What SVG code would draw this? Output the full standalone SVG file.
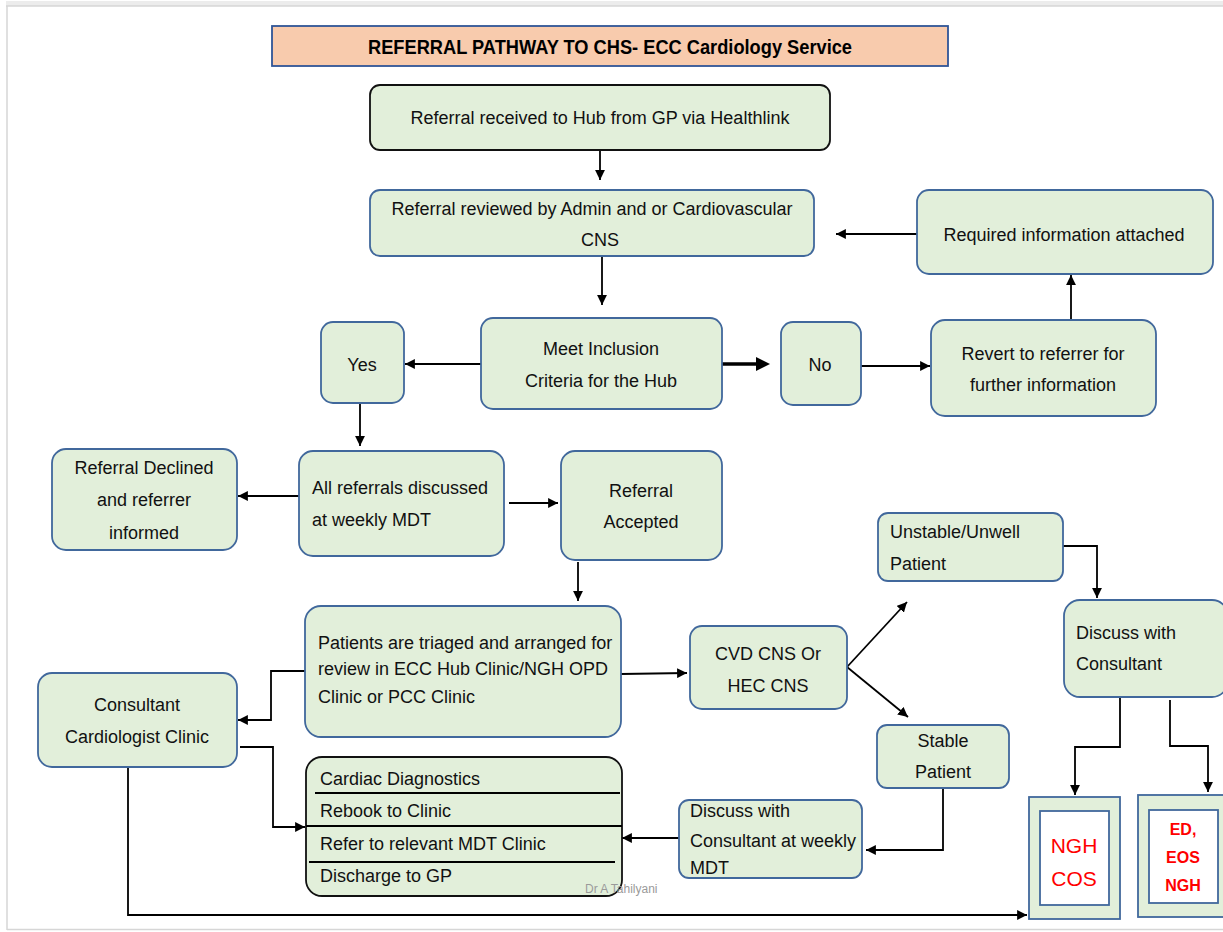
<svg xmlns="http://www.w3.org/2000/svg" width="1223" height="932" viewBox="0 0 1223 932">
<defs>
<style>
.n{fill:#e2efda;stroke:#41689c;stroke-width:1.8}
.nb{fill:#e2efda;stroke:#111;stroke-width:1.8}
.t{font-family:"Liberation Sans",Arial,sans-serif;font-size:18px;fill:#111}
.c{text-anchor:middle}
.e{fill:none;stroke:#000;stroke-width:1.8}
.red{font-family:"Liberation Sans",Arial,sans-serif;fill:#ff0000;text-anchor:middle}
</style>
<marker id="ah" viewBox="0 0 10 10" refX="10" refY="5" markerWidth="5.5" markerHeight="5.5" orient="auto" markerUnits="strokeWidth">
<path d="M0,0 L10,5 L0,10 z" fill="#000"/>
</marker>
</defs>
<rect width="1223" height="932" fill="#fff"/>
<rect x="6" y="1" width="1217" height="5" fill="#ececec"/>
<line x1="6" y1="6" x2="1223" y2="6" stroke="#d6d6d6" stroke-width="1.5"/>
<line x1="7" y1="6" x2="7" y2="930" stroke="#d6d6d6" stroke-width="1.5"/>
<line x1="7" y1="929.5" x2="1223" y2="929.5" stroke="#d6d6d6" stroke-width="1.5"/>

<g id="title">
<rect x="272" y="26" width="676" height="40" fill="#f8cbad" stroke="#2f5597" stroke-width="1.8"/>
<text x="610" y="54" class="c" font-family="Liberation Sans,Arial,sans-serif" font-size="21" font-weight="bold" fill="#000" textLength="484" lengthAdjust="spacingAndGlyphs">REFERRAL PATHWAY TO CHS- ECC Cardiology Service</text>
</g>

<g id="connectors">
<line class="e" x1="600" y1="150" x2="600" y2="180" marker-end="url(#ah)"/>
<line class="e" x1="602" y1="256" x2="602" y2="305" marker-end="url(#ah)"/>
<line class="e" x1="917" y1="234" x2="836" y2="234" marker-end="url(#ah)"/>
<line class="e" x1="481" y1="364" x2="405" y2="364" marker-end="url(#ah)"/>
<line x1="722" y1="364" x2="758" y2="364" stroke="#000" stroke-width="3.5"/>
<polygon points="756,357 770,364 756,371" fill="#000"/>
<line class="e" x1="861" y1="366" x2="930" y2="366" marker-end="url(#ah)"/>
<line class="e" x1="1071" y1="320" x2="1071" y2="275" marker-end="url(#ah)"/>
<line class="e" x1="360" y1="403" x2="360" y2="446" marker-end="url(#ah)"/>
<line class="e" x1="299" y1="496" x2="238" y2="496" marker-end="url(#ah)"/>
<line class="e" x1="509" y1="503" x2="558" y2="503" marker-end="url(#ah)"/>
<line class="e" x1="578" y1="562" x2="578" y2="601" marker-end="url(#ah)"/>
<line class="e" x1="621" y1="674" x2="687" y2="673" marker-end="url(#ah)"/>
<line class="e" x1="847" y1="667" x2="907" y2="602" marker-end="url(#ah)"/>
<line class="e" x1="847" y1="667" x2="908" y2="717" marker-end="url(#ah)"/>
<polyline class="e" points="1063,546 1097,546 1097,598" marker-end="url(#ah)"/>
<polyline class="e" points="1120,697 1120,747 1075,747 1075,795" marker-end="url(#ah)"/>
<polyline class="e" points="1170,700 1170,746 1208,746 1208,792" marker-end="url(#ah)"/>
<polyline class="e" points="943,788 943,850 866,850" marker-end="url(#ah)"/>
<line class="e" x1="679" y1="838" x2="622" y2="838" marker-end="url(#ah)"/>
<polyline class="e" points="305,671 271,671 271,720 238,720" marker-end="url(#ah)"/>
<polyline class="e" points="240,747 273,747 273,827 305,827" marker-end="url(#ah)"/>
<polyline class="e" points="128,767 128,915 1027,915" marker-end="url(#ah)"/>
</g>

<g id="received">
<rect class="nb" x="370" y="85" width="460" height="65" rx="10"/>
<text class="t c" x="600" y="124">Referral received to Hub from GP via Healthlink</text>
</g>
<g id="reviewed">
<rect class="n" x="370" y="190" width="444" height="66" rx="10"/>
<text class="t c" x="592" y="215">Referral reviewed by Admin and or Cardiovascular</text>
<text class="t c" x="600" y="246">CNS</text>
</g>
<g id="required">
<rect class="n" x="917" y="190" width="296" height="84" rx="12"/>
<text class="t c" x="1064" y="241">Required information attached</text>
</g>
<g id="meet">
<rect class="n" x="481" y="318" width="241" height="91" rx="12"/>
<text class="t c" x="601" y="355">Meet Inclusion</text>
<text class="t c" x="601" y="387">Criteria for the Hub</text>
</g>
<g id="yes">
<rect class="n" x="321" y="322" width="83" height="81" rx="12"/>
<text class="t c" x="362" y="371" font-size="20">Yes</text>
</g>
<g id="no">
<rect class="n" x="781" y="322" width="80" height="83" rx="12"/>
<text class="t c" x="820" y="371" font-size="20">No</text>
</g>
<g id="revert">
<rect class="n" x="931" y="320" width="225" height="96" rx="14"/>
<text class="t c" x="1043" y="360">Revert to referrer for</text>
<text class="t c" x="1043" y="391">further information</text>
</g>
<g id="all-referrals">
<rect class="n" x="299" y="451" width="205" height="105" rx="14"/>
<text class="t" x="312" y="494">All referrals discussed</text>
<text class="t" x="312" y="526">at weekly MDT</text>
</g>
<g id="declined">
<rect class="n" x="52" y="449" width="185" height="101" rx="14"/>
<text class="t c" x="144" y="474">Referral Declined</text>
<text class="t c" x="144" y="506">and referrer</text>
<text class="t c" x="144" y="539">informed</text>
</g>
<g id="accepted">
<rect class="n" x="561" y="451" width="161" height="109" rx="14"/>
<text class="t c" x="641" y="497">Referral</text>
<text class="t c" x="641" y="528">Accepted</text>
</g>
<g id="triaged">
<rect class="n" x="305" y="606" width="316" height="131" rx="16"/>
<text class="t" x="318" y="649" font-size="16.5">Patients are triaged and arranged for</text>
<text class="t" x="318" y="675" font-size="16.5">review in ECC Hub Clinic/NGH OPD</text>
<text class="t" x="318" y="703" font-size="16.5">Clinic or PCC Clinic</text>
</g>
<g id="cvd">
<rect class="n" x="690" y="626" width="157" height="83" rx="12"/>
<text class="t c" x="768" y="660">CVD CNS Or</text>
<text class="t c" x="768" y="692">HEC CNS</text>
</g>
<g id="unstable">
<rect class="n" x="878" y="513" width="185" height="68" rx="10"/>
<text class="t" x="890" y="538">Unstable/Unwell</text>
<text class="t" x="890" y="570">Patient</text>
</g>
<g id="discuss-consultant">
<rect class="n" x="1064" y="600" width="164" height="97" rx="16"/>
<text class="t" x="1076" y="639">Discuss with</text>
<text class="t" x="1076" y="670">Consultant</text>
</g>
<g id="ngh-cos">
<rect class="n" x="1029" y="797" width="91" height="122"/>
<rect x="1040" y="811" width="69" height="94" fill="#fff" stroke="#41689c" stroke-width="1.8"/>
<text class="red" x="1074" y="853" font-size="21">NGH</text>
<text class="red" x="1074" y="886" font-size="21">COS</text>
</g>
<g id="ed-eos-ngh">
<rect class="n" x="1138" y="795" width="90" height="122"/>
<rect x="1149" y="810" width="69" height="93" fill="#fff" stroke="#41689c" stroke-width="1.8"/>
<text class="red" x="1183" y="835" font-size="16" font-weight="bold">ED,</text>
<text class="red" x="1183" y="863" font-size="16" font-weight="bold">EOS</text>
<text class="red" x="1183" y="891" font-size="16" font-weight="bold">NGH</text>
</g>
<g id="stable">
<rect class="n" x="877" y="725" width="132" height="63" rx="10"/>
<text class="t c" x="943" y="747">Stable</text>
<text class="t c" x="943" y="778">Patient</text>
</g>
<g id="discuss-mdt">
<rect class="n" x="679" y="800" width="183" height="78" rx="10"/>
<text class="t" x="690" y="817" font-size="15.5">Discuss with</text>
<text class="t" x="690" y="847" font-size="15.5">Consultant at weekly</text>
<text class="t" x="690" y="874" font-size="15.5">MDT</text>
</g>
<g id="outcomes">
<rect class="nb" x="306" y="757" width="316" height="139" rx="16"/>
<line x1="315" y1="793" x2="620" y2="793" stroke="#000" stroke-width="1.8"/>
<line x1="306" y1="826" x2="622" y2="826" stroke="#000" stroke-width="1.8"/>
<line x1="309" y1="862" x2="615" y2="862" stroke="#000" stroke-width="1.8"/>
<text class="t" x="320" y="785">Cardiac Diagnostics</text>
<text class="t" x="320" y="817">Rebook to Clinic</text>
<text class="t" x="320" y="850">Refer to relevant MDT Clinic</text>
<text class="t" x="320" y="882">Discharge to GP</text>
</g>
<g id="consultant-clinic">
<rect class="n" x="38" y="673" width="199" height="94" rx="14"/>
<text class="t c" x="137" y="711">Consultant</text>
<text class="t c" x="137" y="743">Cardiologist Clinic</text>
</g>
<text x="585" y="893" font-family="Liberation Sans,Arial,sans-serif" font-size="12" fill="#9a9a9a">Dr A Tahilyani</text>
</svg>
